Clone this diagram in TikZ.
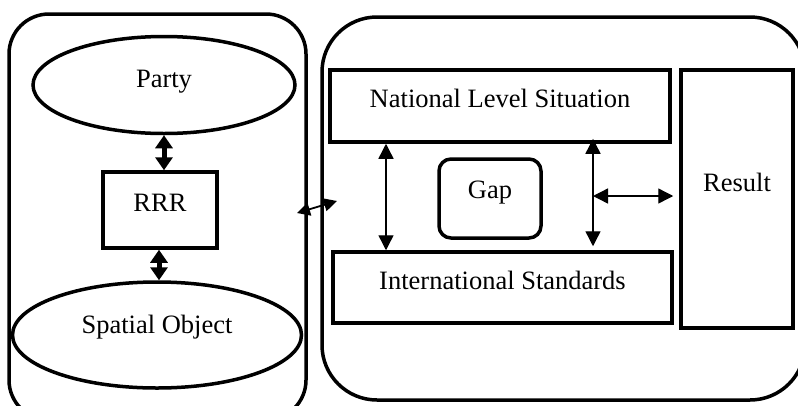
\documentclass[tikz,border=0pt]{standalone}
\usepackage{fontspec}
\setmainfont{Liberation Serif}
\usetikzlibrary{shapes.geometric,arrows.meta}
\begin{document}
\begin{tikzpicture}[x=1pt,y=-1pt,
  font=\fontsize{26.5}{30}\selectfont,
  container/.style={draw, line width=3.5pt, rectangle, inner sep=0pt},
  box/.style={draw, line width=3.5pt, rectangle, inner sep=0pt},
  oval/.style={draw, line width=3.5pt, ellipse, inner sep=0pt},
  thinarrow/.style={line width=1.4pt, {Triangle[length=15pt,width=15pt]}-{Triangle[length=15pt,width=15pt]}},
  boldarrow/.style={line width=5pt, {Triangle[length=13pt,width=17pt]}-{Triangle[length=13pt,width=17pt]}},
  smallarrow/.style={line width=1.8pt, {Triangle[length=13pt,width=13pt]}-{Triangle[length=13pt,width=13pt]}}
]
\useasboundingbox (0,0) rectangle (798,405);
\clip (0,0) rectangle (798,405);
\fill[white] (0,0) rectangle (798,405);

% containers
\node[container, rounded corners=40pt, minimum width=297pt, minimum height=406pt] (leftc) at (157.5,217) {};
\node[container, rounded corners=55pt, minimum width=483pt, minimum height=383pt] (rightc) at (563.5,208.5) {};

% left side
\node[oval, minimum width=262pt, minimum height=97pt, label={[yshift=3pt]center:Party}] (party) at (164,85) {};
\node[box, minimum width=114pt, minimum height=76pt, label={[yshift=7pt]center:RRR}] (rrr) at (160,210) {};
\node[oval, minimum width=289pt, minimum height=106pt, label={[yshift=8pt]center:Spatial Object}] (spatial) at (157,335) {};

\draw[boldarrow] (party.south) -- (party.south |- rrr.north);
\draw[boldarrow] ([xshift=-1pt]rrr.south) -- ([xshift=-1pt]rrr.south |- spatial.north);

% right side
\node[box, minimum width=340pt, minimum height=72pt, label={[yshift=8pt]center:National Level Situation}] (nls) at (500,106) {};
\node[box, minimum width=339pt, minimum height=71pt, label={[yshift=7pt]center:International Standards}] (is) at (502.5,287.5) {};
\node[box, minimum width=112pt, minimum height=258pt, label={[yshift=17pt]center:Result}] (result) at (737,199) {};
\node[box, rounded corners=12pt, minimum width=102pt, minimum height=79pt, label={[yshift=6pt]center:Gap}] (gap) at (490,198.5) {};

\draw[thinarrow] ([xshift=-114pt]nls.south) -- ([xshift=-116.5pt]is.north);
\draw[thinarrow] ([xshift=93pt,yshift=5pt]nls.south) -- ([xshift=90.5pt,yshift=4pt]is.north);
\coordinate (j) at (593,196);
\draw[thinarrow, shorten >=6pt] (j) -- (result.west |- j);

% link between containers
\coordinate (a1) at (297,213);
\coordinate (a2) at (337,201);
\draw[smallarrow] (a1) -- (a2);
\end{tikzpicture}
\end{document}
